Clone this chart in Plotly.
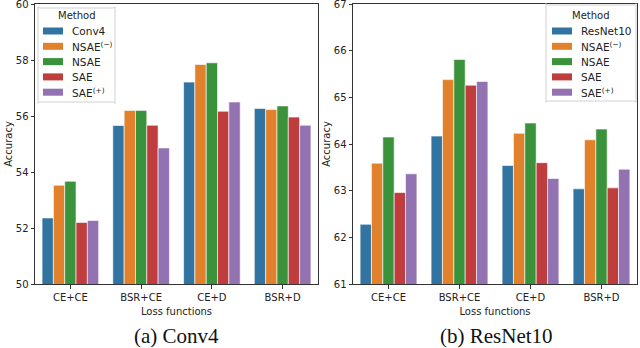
import plotly.graph_objects as go

losses = ['CE+CE', 'BSR+CE', 'CE+D', 'BSR+D']
methods_left = ['Conv4', 'NSAE<sup>(−)</sup>', 'NSAE', 'SAE', 'SAE<sup>(+)</sup>']
methods_right = ['ResNet10', 'NSAE<sup>(−)</sup>', 'NSAE', 'SAE', 'SAE<sup>(+)</sup>']

# accuracy per method, one value per loss function
conv4 = [
    [52.36, 55.66, 57.21, 56.27],
    [53.53, 56.20, 57.84, 56.23],
    [53.67, 56.20, 57.90, 56.36],
    [52.20, 55.67, 56.17, 55.96],
    [52.27, 54.86, 56.50, 55.67],
]
resnet10 = [
    [62.28, 64.17, 63.54, 63.04],
    [63.59, 65.38, 64.23, 64.09],
    [64.15, 65.81, 64.45, 64.32],
    [62.96, 65.26, 63.60, 63.06],
    [63.36, 65.34, 63.26, 63.46],
]

colors = ['#3274a1', '#e1812c', '#3a923a', '#c03d3e', '#9372b2']
font = 'DejaVu Sans'
W, H = 640, 348

fig = go.Figure()

for name, vals, c in zip(methods_left, conv4, colors):
    fig.add_trace(go.Bar(x=losses, y=vals, name=name, marker_color=c,
                         marker_line=dict(color='white', width=0.6),
                         xaxis='x', yaxis='y', showlegend=False))

for name, vals, c in zip(methods_right, resnet10, colors):
    fig.add_trace(go.Bar(x=losses, y=vals, name=name, marker_color=c,
                         marker_line=dict(color='white', width=0.6),
                         xaxis='x2', yaxis='y2', showlegend=False))

axis_style = dict(showline=True, linecolor='#333', linewidth=1, mirror=True,
                  ticks='outside', ticklen=3.5, tickcolor='#333', showgrid=False,
                  zeroline=False, ticklabeloverflow='allow',
                  tickfont=dict(size=10, color='#222', family=font))


def rounded_box(x0, y0, x1, y1, r=2):
    return (f'M{x0+r},{y0} L{x1-r},{y0} Q{x1},{y0} {x1},{y0+r} '
            f'L{x1},{y1-r} Q{x1},{y1} {x1-r},{y1} L{x0+r},{y1} '
            f'Q{x0},{y1} {x0},{y1-r} L{x0},{y0+r} Q{x0},{y0} {x0+r},{y0} Z')


shapes = []
annotations = []


# hand-made legend, matplotlib style (tighter rows than plotly's own legend)
def add_legend(box, sw_x, txt_x, names):
    x0, y0, x1, y1 = box
    shapes.append(dict(type='path', xref='paper', yref='paper', layer='above',
                       path=rounded_box(x0 / W, 1 - y0 / H, x1 / W, 1 - y1 / H, 0.004),
                       fillcolor='rgba(255,255,255,0.85)', line=dict(color='#d0d0d0', width=1)))
    annotations.append(dict(text='Method', x=(x0 + x1) / 2 / W, y=1 - 16 / H,
                            xref='paper', yref='paper', showarrow=False,
                            xanchor='center', yanchor='middle',
                            font=dict(size=10, family=font, color='#222')))
    for i, (name, c) in enumerate(zip(names, colors)):
        yc = 31 + i * 15.3
        shapes.append(dict(type='rect', xref='paper', yref='paper', layer='above',
                           x0=sw_x / W, x1=(sw_x + 20) / W,
                           y0=1 - (yc + 3.5) / H, y1=1 - (yc - 3.5) / H,
                           fillcolor=c, line=dict(width=0)))
        annotations.append(dict(text=name, x=txt_x / W, y=1 - yc / H,
                                xref='paper', yref='paper', showarrow=False,
                                xanchor='left', yanchor='middle',
                                font=dict(size=10.5, family=font, color='#222')))


add_legend((38, 8, 115, 102), 43, 70, methods_left)
add_legend((546, 5, 636, 101), 552, 579, methods_right)

for txt, xc in [('(a) Conv4', 176), ('(b) ResNet10', 496)]:
    annotations.append(dict(text=txt, x=xc / W, y=1 - 336 / H, xref='paper', yref='paper',
                            showarrow=False, xanchor='center', yanchor='middle',
                            font=dict(family='Liberation Serif', size=21, color='#111')))

fig.update_layout(
    width=W, height=H,
    margin=dict(l=0, r=0, t=0, b=0),
    template='none',
    plot_bgcolor='white', paper_bgcolor='white',
    barmode='group', bargap=0.2, bargroupgap=0,
    font=dict(family=font, size=10, color='#222'),
    xaxis=dict(domain=[35 / W, 318 / W], anchor='y',
               title=dict(text='Loss functions', font=dict(size=10), standoff=6), **axis_style),
    yaxis=dict(domain=[1 - 284 / H, 1 - 4 / H], anchor='x', range=[50, 60], dtick=2,
               title=dict(text='Accuracy', font=dict(size=10), standoff=1), **axis_style),
    xaxis2=dict(domain=[353 / W, 637 / W], anchor='y2',
                title=dict(text='Loss functions', font=dict(size=10), standoff=6), **axis_style),
    yaxis2=dict(domain=[1 - 284 / H, 1 - 4 / H], anchor='x2', range=[61, 67], dtick=1,
                title=dict(text='Accuracy', font=dict(size=10), standoff=1), **axis_style),
    shapes=shapes,
    annotations=annotations,
)

fig.write_html('out.html', config={'displayModeBar': False},
               post_script="document.body.style.margin='0';")
